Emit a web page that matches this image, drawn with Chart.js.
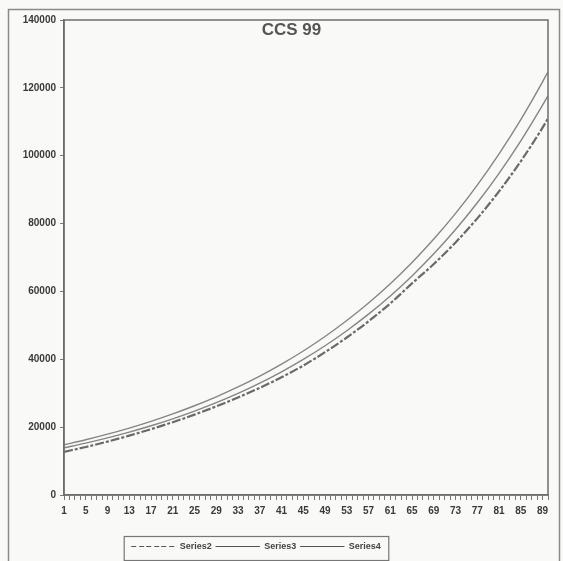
<!DOCTYPE html>
<html>
<head>
<meta charset="utf-8">
<script src="https://cdn.jsdelivr.net/npm/chart.js@4"></script>
<style>
  html, body { margin: 0; padding: 0; background: #f9f9f7; }
  #wrap { position: relative; width: 563px; height: 561px; }
</style>
</head>
<body>
<div id="wrap"><canvas id="c" width="563" height="561"></canvas></div>
<script>
// ---- data ----
const chartTitle = 'CCS 99';
const categories = [1, 5, 9, 13, 17, 21, 25, 29, 33, 37, 41, 45, 49, 53, 57, 61, 65, 69, 73, 77, 81, 85, 89, 90];
const series2 = [12700, 14150, 15740, 17490, 19410, 21460, 23680, 26120, 28760, 31580, 34700, 38160, 42090, 46420, 51200, 56470, 62380, 68080, 74450, 81530, 89510, 98360, 108280, 110970];
const series3 = [13900, 15300, 16840, 18540, 20410, 22460, 24730, 27220, 29960, 32980, 36300, 39960, 43990, 48420, 53300, 58670, 64580, 71080, 78250, 86130, 94810, 104360, 114880, 117670];
const series4 = [14800, 16290, 17930, 19730, 21710, 23900, 26300, 28940, 31850, 35050, 38580, 42450, 46720, 51420, 56590, 62280, 68540, 75430, 83010, 91350, 100540, 110640, 121770, 124720];
const xTickLabels = [1, 5, 9, 13, 17, 21, 25, 29, 33, 37, 41, 45, 49, 53, 57, 61, 65, 69, 73, 77, 81, 85, 89];
const xMin = 1, xMax = 90;
const yTicks = [0, 20000, 40000, 60000, 80000, 100000, 120000, 140000];

const pts = arr => arr.map((v, i) => ({ x: categories[i], y: v }));

const framePlugin = {
  id: 'frame',
  afterLayout(chart) {
    const lg = chart.legend;
    if (lg) { lg.left -= 18; lg.right -= 18; }
  },
  beforeDraw(chart) {
    const ctx = chart.ctx;
    ctx.save();
    ctx.fillStyle = '#f9f9f7';
    ctx.fillRect(0, 0, chart.width, chart.height);
    ctx.strokeStyle = '#8a8a8a';
    ctx.lineWidth = 1.5;
    ctx.strokeRect(8.5, 9.5, 551, 560);
    ctx.restore();
  },
  afterDraw(chart) {
    const ctx = chart.ctx;
    const a = chart.chartArea;
    ctx.save();
    ctx.strokeStyle = '#6e6e6e';
    ctx.lineWidth = 1.5;
    ctx.strokeRect(a.left, a.top, a.right - a.left, a.bottom - a.top);
    // title inside plot area
    ctx.fillStyle = '#555';
    ctx.font = 'bold 17px "Liberation Sans", Arial, sans-serif';
    ctx.textAlign = 'center';
    ctx.textBaseline = 'top';
    ctx.fillText(chartTitle, a.left + (a.right - a.left) * 0.47, a.top + 2);
    // legend frame
    const lg = chart.legend;
    if (lg && lg.legendHitBoxes && lg.legendHitBoxes.length) {
      const hb = lg.legendHitBoxes;
      const l = Math.min(...hb.map(h => h.left)) - 7;
      const r = Math.max(...hb.map(h => h.left + h.width)) + 8;
      ctx.strokeStyle = '#777';
      ctx.lineWidth = 1.2;
      ctx.strokeRect(l, lg.top - 1.5, r - l, lg.bottom - lg.top + 1);
    }
    ctx.restore();
  }
};

const tickFont = { family: '"Liberation Sans", Arial, sans-serif', size: 10, weight: 'bold' };

new Chart(document.getElementById('c'), {
  type: 'line',
  data: {
    datasets: [
      { label: 'Series2', data: pts(series2), borderColor: '#6a6a6a', borderWidth: 2.2, borderDash: [9, 2, 3, 2], pointRadius: 0, fill: false, cubicInterpolationMode: 'monotone' },
      { label: 'Series3', data: pts(series3), borderColor: '#858585', borderWidth: 1.4, pointRadius: 0, fill: false, cubicInterpolationMode: 'monotone' },
      { label: 'Series4', data: pts(series4), borderColor: '#858585', borderWidth: 1.4, pointRadius: 0, fill: false, cubicInterpolationMode: 'monotone' }
    ]
  },
  options: {
    responsive: false,
    animation: false,
    layout: { padding: { left: 0, top: 20, right: 15, bottom: 0 } },
    plugins: {
      title: { display: false },
      tooltip: { enabled: false },
      legend: {
        position: 'bottom',
        labels: {
          usePointStyle: false,
          boxWidth: 44,
          boxHeight: 0,
          padding: 4,
          color: '#444',
          font: { family: '"Liberation Sans", Arial, sans-serif', size: 9, weight: 'bold' },
          generateLabels(chart) {
            return chart.data.datasets.map((ds, i) => ({
              text: ds.label,
              fillStyle: 'rgba(0,0,0,0)',
              strokeStyle: '#555',
              lineWidth: 1,
              lineDash: i === 0 ? [5, 4, 2, 4] : [],
              hidden: false,
              datasetIndex: i,
              fontColor: '#444'
            }));
          }
        }
      }
    },
    scales: {
      x: {
        type: 'linear',
        min: xMin, max: xMax,
        afterFit(s) { s.height = 43; },
        afterBuildTicks(s) {
          const t = [];
          for (let v = xMin; v <= xMax; v++) t.push({ value: v });
          s.ticks = t;
        },
        ticks: {
          autoSkip: false, maxRotation: 0, minRotation: 0, padding: 5,
          color: '#3a3a3a', font: tickFont,
          callback: v => xTickLabels.includes(v) ? String(v) : ''
        },
        grid: { drawOnChartArea: false, drawTicks: true, tickLength: 5, color: '#777', lineWidth: 1 },
        border: { color: '#6e6e6e', width: 1.5 }
      },
      y: {
        min: 0, max: 140000,
        afterFit(s) { s.width = 64; },
        afterBuildTicks(s) { s.ticks = yTicks.map(v => ({ value: v })); },
        ticks: { padding: 4, color: '#3a3a3a', font: tickFont, callback: v => String(v) },
        grid: { drawOnChartArea: false, drawTicks: true, tickLength: 4, color: '#777' },
        border: { color: '#6e6e6e', width: 1.5 }
      }
    }
  },
  plugins: [framePlugin]
});
</script>
</body>
</html>
